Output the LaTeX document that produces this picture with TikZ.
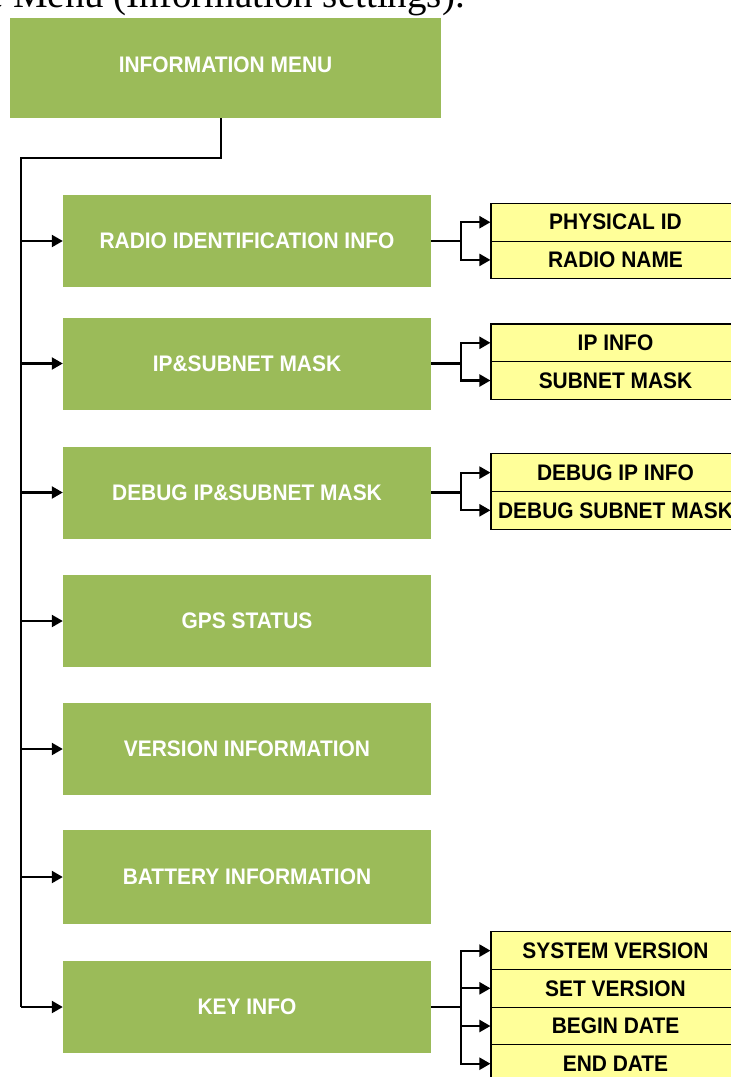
\documentclass[tikz,border=0pt]{standalone}
\usepackage{fontspec}
\setmainfont{Liberation Serif}
\newfontfamily\boxfont{Liberation Sans}
\usetikzlibrary{arrows.meta}
\definecolor{boxgreen}{HTML}{9BBB59}
\definecolor{boxyellow}{HTML}{FFFF99}
\newcommand{\bt}[1]{\scalebox{0.93}[1]{#1}}
\tikzset{
  greenbox/.style={fill=boxgreen, text=white, inner sep=0pt,
    minimum width=368pt, minimum height=92pt,
    font=\boxfont\bfseries\fontsize{22.5pt}{24pt}\selectfont},
  yellowbox/.style={fill=boxyellow, draw=black, line width=1.1pt, text=black, inner sep=0pt,
    minimum width=249pt, minimum height=37.7pt,
    font=\boxfont\bfseries\fontsize{22.5pt}{24pt}\selectfont},
  conn/.style={line width=2.2pt, draw=black},
  arr/.style={conn, -{Triangle[length=11pt,width=12pt]}},
}
\begin{document}
\begin{tikzpicture}[x=1pt,y=-1pt]
\useasboundingbox (0,0) rectangle (731,1077);
\clip (0,0) rectangle (731,1077);
% cut-off caption line at the top
\node[anchor=base east, inner sep=0pt, font=\fontsize{39pt}{42pt}\selectfont] (cap) at (465,7.5) {e Menu (Information settings).};
% main menu
\node[greenbox, minimum width=431pt, minimum height=100pt] (menu) at (225.5,68) {};
\node[text=white, inner sep=0pt, font=\boxfont\bfseries\fontsize{22.5pt}{24pt}\selectfont] (menut) at (225.5,65) {\bt{INFORMATION MENU}};
% level-1 items
\node[greenbox] (radio) at (247,241) {\bt{RADIO IDENTIFICATION INFO}};
\node[greenbox] (ip) at (247,363.5) {\bt{IP\&SUBNET MASK}};
\node[greenbox] (debug) at (247,492.5) {\bt{DEBUG IP\&SUBNET MASK}};
\node[greenbox] (gps) at (247,621) {\bt{GPS STATUS}};
\node[greenbox] (version) at (247,749) {\bt{VERSION INFORMATION}};
\node[greenbox, minimum height=94pt] (battery) at (247,877) {\bt{BATTERY INFORMATION}};
\node[greenbox] (key) at (247,1007) {\bt{KEY INFO}};
% level-2 items
\node[yellowbox] (phys) at (615.5,222.2) {\bt{PHYSICAL ID}};
\node[yellowbox] (rname) at (615.5,259.9) {\bt{RADIO NAME}};
\node[yellowbox] (ipinfo) at (615.5,342.8) {\bt{IP INFO}};
\node[yellowbox] (subnet) at (615.5,380.5) {\bt{SUBNET MASK}};
\node[yellowbox] (dbgip) at (615.5,472.6) {\bt{DEBUG IP INFO}};
\node[yellowbox] (dbgsub) at (615.5,510.3) {\bt{DEBUG SUBNET MASK}};
\node[yellowbox] (sysver) at (615.5,950.6) {\bt{SYSTEM VERSION}};
\node[yellowbox] (setver) at (615.5,988.3) {\bt{SET VERSION}};
\node[yellowbox] (begin) at (615.5,1026) {\bt{BEGIN DATE}};
\node[yellowbox] (end) at (615.5,1063.7) {\bt{END DATE}};
% trunk
\coordinate (drop) at (221,118);
\coordinate (trunk) at (21,158);
\draw[conn] (drop) |- (trunk) -- (trunk |- key.west);
\foreach \n in {radio,ip,debug,gps,version,battery,key}
  \draw[arr] (trunk |- \n.west) -- (\n.west);
% branches
\foreach \p/\c in {radio/phys,radio/rname,ip/ipinfo,ip/subnet,debug/dbgip,debug/dbgsub,key/sysver,key/setver,key/begin,key/end}
  \draw[arr] (\p.east) -- ++(30,0) |- (\c.west);
\end{tikzpicture}
\end{document}
